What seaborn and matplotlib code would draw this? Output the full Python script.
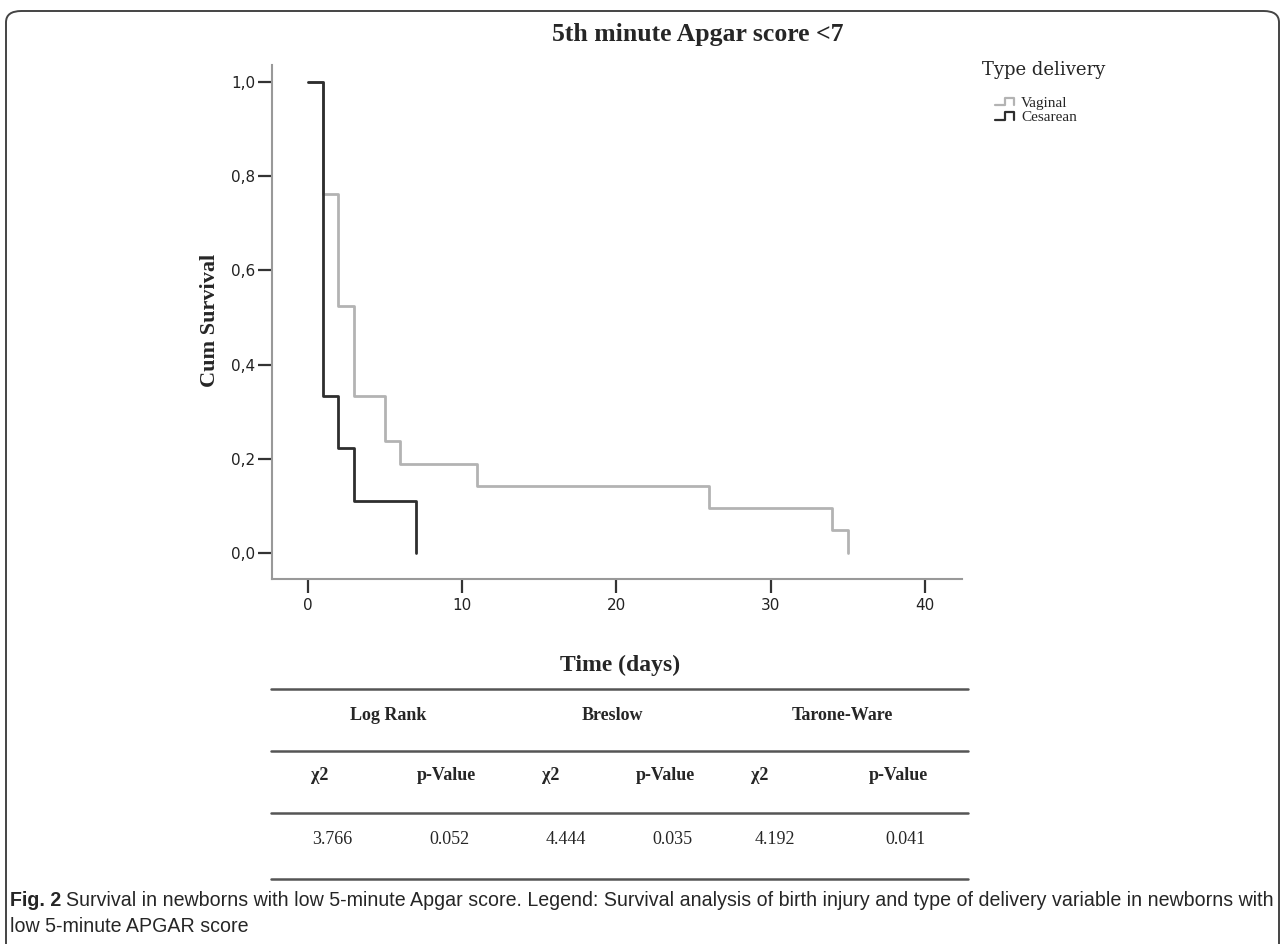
import numpy as np
import pandas as pd
import seaborn as sns
import matplotlib.pyplot as plt
from matplotlib.lines import Line2D
from matplotlib.legend_handler import HandlerBase
from matplotlib.patches import FancyBboxPatch
from matplotlib import font_manager

# Kaplan-Meier steps
vag_time = [0, 1, 2, 3, 5, 6, 11, 26, 34, 35]
vag_surv = [1.0, 0.762, 0.524, 0.333, 0.238, 0.190, 0.143, 0.095, 0.048, 0.0]
ces_time = [0, 1, 2, 3, 7]
ces_surv = [1.0, 0.333, 0.222, 0.111, 0.0]
groups = ["Vaginal", "Cesarean"]
colors = ["#b3b3b3", "#2e2e2e"]

xticks = [0, 10, 20, 30, 40]
yticks = [0.0, 0.2, 0.4, 0.6, 0.8, 1.0]
ytick_labels = ["0,0", "0,2", "0,4", "0,6", "0,8", "1,0"]

# test table
tests = ["Log Rank", "Breslow", "Tarone-Ware"]
sub_cols = ["χ2", "p-Value", "χ2", "p-Value", "χ2", "p-Value"]
stat_values = ["3.766", "0.052", "4.444", "0.035", "4.192", "0.041"]

caption_bold = "Fig. 2"
caption_l1 = ("Survival in newborns with low 5-minute Apgar score. Legend: Survival analysis of "
              "birth injury and type of delivery variable in newborns with")
caption_l2 = "low 5-minute APGAR score"

W, H = 1284, 944


def fx(px):
    return px / W


def fy(py):
    return 1 - py / H


sns.set_theme(style="white")
plt.rcParams['font.family'] = ['DejaVu Sans']
serif = 'Liberation Serif'
names = {f.name for f in font_manager.fontManager.ttflist}
cap_font = 'Liberation Sans Narrow' if 'Liberation Sans Narrow' in names else 'Liberation Sans'

fig = plt.figure(figsize=(W / 100, H / 100), dpi=100)

# rounded panel border
fig.add_artist(FancyBboxPatch((fx(6), fy(990)), fx(1279) - fx(6), fy(11) - fy(990),
                              boxstyle="round,pad=0,rounding_size=0.012",
                              transform=fig.transFigure, fill=False,
                              edgecolor="#444444", lw=1.4))

ax = fig.add_axes([fx(272), fy(579), fx(962) - fx(272), fy(65) - fy(579)])

df = pd.concat([
    pd.DataFrame({"time": vag_time, "surv": vag_surv, "group": groups[0]}),
    pd.DataFrame({"time": ces_time, "surv": ces_surv, "group": groups[1]}),
], ignore_index=True)

sns.lineplot(data=df, x="time", y="surv", hue="group", hue_order=groups,
             palette=colors, drawstyle="steps-post", estimator=None, sort=False,
             linewidth=2, legend=False, ax=ax)

ax.set_xlim(-2.3, 42.4)
ax.set_ylim(-0.055, 1.036)
ax.set_xticks(xticks)
ax.set_yticks(yticks)
ax.set_yticklabels(ytick_labels)
ax.set_xlabel("")
ax.set_ylabel("")
for s in ["top", "right"]:
    ax.spines[s].set_visible(False)
for s in ["left", "bottom"]:
    ax.spines[s].set_color("#999999")
    ax.spines[s].set_linewidth(1.5)
ax.tick_params(left=True, bottom=True, direction="out", length=10, width=1.6,
               color="#333333", labelsize=11, labelcolor="#222222")
ax.tick_params(axis="y", pad=2)
ax.tick_params(axis="x", pad=4)

fig.text(fx(698), fy(34), "5th minute Apgar score <7", ha="center", va="center",
         family=serif, fontweight="bold", fontsize=18.5)
fig.text(fx(210), fy(320), "Cum Survival", rotation=90, ha="center", va="center",
         family=serif, fontweight="bold", fontsize=16)
fig.text(fx(620), fy(665), "Time (days)", ha="center", va="center",
         family=serif, fontweight="bold", fontsize=17)

# legend
fig.text(fx(982), fy(70), "Type delivery", ha="left", va="center",
         family="DejaVu Serif", fontsize=13)


class StepHandler(HandlerBase):
    def create_artists(self, legend, orig_handle, xdescent, ydescent, width, height, fontsize, trans):
        xs = np.array([0, 0.45, 0.45, 0.9, 0.9]) * width - xdescent
        ys = np.array([0.15, 0.15, 0.85, 0.85, 0.15]) * height - ydescent
        ln = Line2D(xs, ys, color=orig_handle.get_color(), lw=orig_handle.get_linewidth())
        ln.set_transform(trans)
        return [ln]


handles = [Line2D([], [], color=c, lw=1.6) for c in colors]
fig.legend(handles, groups, handler_map={Line2D: StepHandler()}, loc="upper left",
           bbox_to_anchor=(fx(995), fy(96)), frameon=False,
           prop={"family": serif, "size": 11}, handlelength=1.4, handleheight=0.7,
           handletextpad=0.3, labelspacing=0.05, borderpad=0, borderaxespad=0)

# table of tests
for yy in [689, 751, 813, 879]:
    fig.add_artist(Line2D([fx(271), fx(968)], [fy(yy), fy(yy)], color="#555555", lw=1.8,
                          transform=fig.transFigure))
for name, xc in zip(tests, [388, 612, 842]):
    fig.text(fx(xc), fy(716), name, ha="center", va="center", family=serif,
             fontweight="bold", fontsize=13)
for name, xc in zip(sub_cols, [320, 446, 551, 665, 760, 898]):
    fig.text(fx(xc), fy(775), name, ha="center", va="center", family=serif,
             fontweight="bold", fontsize=13)
for val, xc in zip(stat_values, [332, 449, 566, 672, 775, 906]):
    fig.text(fx(xc), fy(839), val, ha="center", va="center", family=serif, fontsize=13)

# caption, sized to fill the line
t_b = fig.text(fx(10), fy(901), caption_bold, ha="left", va="center", family=cap_font,
               fontweight="bold", fontsize=13)
fig.canvas.draw()
r = fig.canvas.get_renderer()
bb = t_b.get_window_extent(r)
x_start = bb.x1 + 9
t1 = fig.text(x_start / W, fy(901), caption_l1, ha="left", va="center", family=cap_font,
              fontsize=13)
fig.canvas.draw()
w1 = t1.get_window_extent(r).width
fs = 13 * (1268 - x_start) / w1
t1.set_fontsize(fs)
t_b.set_fontsize(fs)
fig.text(fx(10), fy(926), caption_l2, ha="left", va="center", family=cap_font, fontsize=fs)

fig.savefig("out.png", dpi=100)
